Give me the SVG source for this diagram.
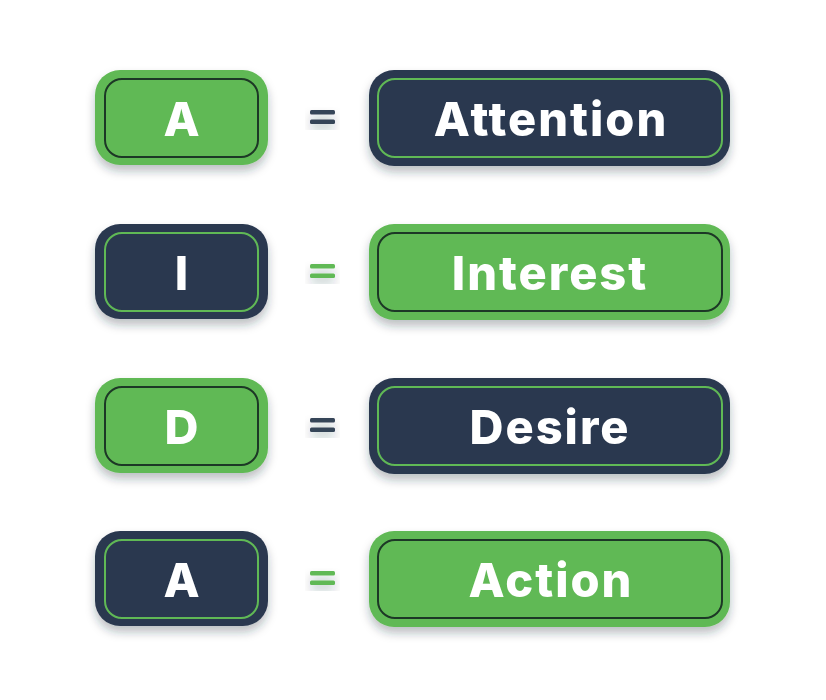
<svg xmlns="http://www.w3.org/2000/svg" width="826" height="700" viewBox="0 0 826 700">
<defs>
<filter id="sh" x="-20%" y="-20%" width="140%" height="160%">
<feDropShadow dx="0" dy="6" stdDeviation="5" flood-color="#1e2a3a" flood-opacity="0.3"/>
</filter>
<style>
.g{fill:#61b955}
.d{fill:#2a3950}
.gi{fill:none;stroke:#1d3826;stroke-width:2}
.di{fill:none;stroke:#61b955;stroke-width:2}
.t{font-family:Inter,"Liberation Sans",sans-serif;font-weight:800;font-size:47px;fill:#ffffff;text-anchor:middle}
.w{letter-spacing:2px}
.eqd{fill:#364558}
.eqg{fill:#61b955}
</style>
</defs>
<rect width="826" height="700" fill="#ffffff"/>

<g id="row1-letter" filter="url(#sh)">
<rect class="g" x="95" y="70" width="173" height="95" rx="25"/>
<rect class="gi" x="105" y="79" width="153" height="78" rx="17"/>
<text class="t" x="181.5" y="136">A</text>
</g>
<g id="row1-eq" filter="url(#sh)" class="eqd">
<rect x="310" y="110" width="25" height="4.5" rx="1.5"/>
<rect x="310" y="119.5" width="25" height="4.5" rx="1.5"/>
</g>
<g id="row1-word" filter="url(#sh)">
<rect class="d" x="369" y="70" width="361" height="96" rx="25"/>
<rect class="di" x="378" y="79" width="344" height="78" rx="17"/>
<text class="t w" x="551" y="136">Attention</text>
</g>

<g id="row2-letter" filter="url(#sh)">
<rect class="d" x="95" y="224" width="173" height="95" rx="25"/>
<rect class="di" x="105" y="233" width="153" height="78" rx="17"/>
<text class="t" x="181.5" y="290">I</text>
</g>
<g id="row2-eq" filter="url(#sh)" class="eqg">
<rect x="310" y="264" width="25" height="4.5" rx="1.5"/>
<rect x="310" y="273.5" width="25" height="4.5" rx="1.5"/>
</g>
<g id="row2-word" filter="url(#sh)">
<rect class="g" x="369" y="224" width="361" height="96" rx="25"/>
<rect class="gi" x="378" y="233" width="344" height="78" rx="17"/>
<text class="t w" x="550" y="290">Interest</text>
</g>

<g id="row3-letter" filter="url(#sh)">
<rect class="g" x="95" y="378" width="173" height="95" rx="25"/>
<rect class="gi" x="105" y="387" width="153" height="78" rx="17"/>
<text class="t" x="181.5" y="444">D</text>
</g>
<g id="row3-eq" filter="url(#sh)" class="eqd">
<rect x="310" y="418" width="25" height="4.5" rx="1.5"/>
<rect x="310" y="427.5" width="25" height="4.5" rx="1.5"/>
</g>
<g id="row3-word" filter="url(#sh)">
<rect class="d" x="369" y="378" width="361" height="96" rx="25"/>
<rect class="di" x="378" y="387" width="344" height="78" rx="17"/>
<text class="t w" x="550" y="444">Desire</text>
</g>

<g id="row4-letter" filter="url(#sh)">
<rect class="d" x="95" y="531" width="173" height="95" rx="25"/>
<rect class="di" x="105" y="540" width="153" height="78" rx="17"/>
<text class="t" x="181.5" y="597">A</text>
</g>
<g id="row4-eq" filter="url(#sh)" class="eqg">
<rect x="310" y="571" width="25" height="4.5" rx="1.5"/>
<rect x="310" y="580.5" width="25" height="4.5" rx="1.5"/>
</g>
<g id="row4-word" filter="url(#sh)">
<rect class="g" x="369" y="531" width="361" height="96" rx="25"/>
<rect class="gi" x="378" y="540" width="344" height="78" rx="17"/>
<text class="t w" x="551" y="597">Action</text>
</g>
</svg>
